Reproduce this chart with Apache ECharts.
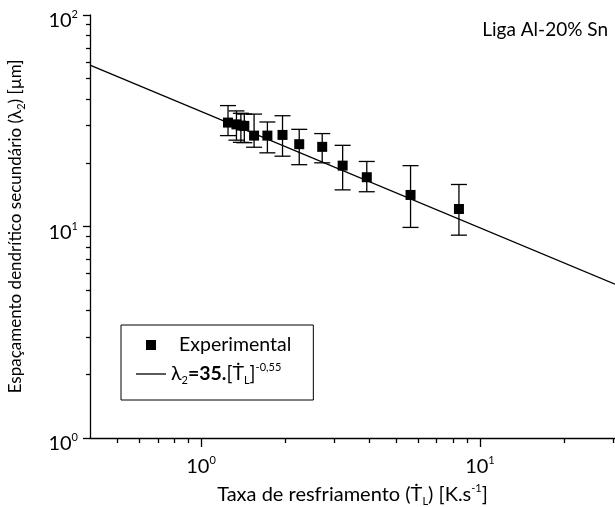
<!DOCTYPE html>
<html>
<head>
<meta charset="utf-8">
<script src="https://cdn.jsdelivr.net/npm/echarts@6/dist/echarts.min.js"></script>
<style>
  html, body { margin: 0; padding: 0; background: #fff; }
  #chart { width: 615px; height: 507px; }
</style>
</head>
<body>
<div id="chart"></div>
<script>
// taxa de resfriamento (K/s) x espaçamento dendrítico secundário (um)
const coolingRate = [1.25, 1.34, 1.39, 1.43, 1.55, 1.73, 1.96, 2.25, 2.72, 3.22, 3.93, 5.64, 8.41];
const spacing     = [31.0, 30.4, 30.0, 29.9, 26.9, 26.9, 27.1, 24.5, 23.8, 19.4, 17.1, 14.1, 12.1];
const spacingHigh = [37.3, 35.2, 34.3, 34.0, 34.0, 31.2, 33.4, 28.8, 27.5, 24.2, 20.3, 19.4, 15.8];
const spacingLow  = [26.9, 25.6, 25.0, 24.9, 23.7, 22.3, 21.5, 19.6, 20.0, 14.9, 14.6, 9.9, 9.1];

// ajuste lambda2 = 35.T^-0,55 (extremos da reta)
const fitX = [0.4, 30.5];
const fitY = [57.9, 5.34];

const xMajor = [1, 10];
const xMinor = [0.5, 0.6, 0.7, 0.8, 0.9, 2, 3, 4, 5, 6, 7, 8, 9, 20, 30];
const yMajor = [1, 10, 100];
const yMinor = [2, 3, 4, 5, 6, 7, 8, 9, 20, 30, 40, 50, 60, 70, 80, 90];

const FONT = 'Lato, "Noto Sans", sans-serif';
const richText = {
  b:   { fontFamily: FONT, fontSize: 20, color: '#000', lineHeight: 24 },
  n:   { fontFamily: FONT, fontSize: 20, color: '#000', lineHeight: 24 },
  ny:  { fontFamily: FONT, fontSize: 17, color: '#000', lineHeight: 22 },
  e:   { fontFamily: FONT, fontSize: 19.5, color: '#000', lineHeight: 24, padding: [0, 0, 0, 8] },
  l:   { fontFamily: FONT, fontSize: 19.5, color: '#000', lineHeight: 24 },
  bd:  { fontFamily: FONT, fontSize: 19.5, color: '#000', lineHeight: 24, fontWeight: 'bold' },
  sup: { fontFamily: FONT, fontSize: 11, color: '#000', lineHeight: 13, verticalAlign: 'top' },
  sub: { fontFamily: FONT, fontSize: 11, color: '#000', lineHeight: 13, verticalAlign: 'bottom' }
};

function powLabel(v) {
  return '{b|10}{sup|' + Math.round(Math.log10(v)) + '}';
}

let errData = [];
let pointData = [];
for (let i = 0; i < coolingRate.length; i++) {
  errData.push([coolingRate[i], spacingLow[i], spacingHigh[i]]);
  pointData.push([coolingRate[i], spacing[i]]);
}
let fitData = [];
for (let i = 0; i < fitX.length; i++) {
  fitData.push([fitX[i], fitY[i]]);
}

const axisColor = { color: '#000', width: 1.3 };

const my_echart = echarts.init(document.getElementById('chart'), null, { renderer: 'canvas' });

my_echart.setOption({
  animation: false,
  backgroundColor: '#fff',
  title: {
    text: 'Liga Al-20% Sn',
    right: 2,
    top: 15,
    textStyle: { fontFamily: FONT, fontSize: 19, fontWeight: 'normal', color: '#000' }
  },
  legend: {
    orient: 'vertical',
    left: 121,
    top: 325,
    padding: [10, 22, 14, 15],
    itemWidth: 30,
    itemHeight: 10,
    itemGap: 7,
    borderColor: '#000',
    borderWidth: 1,
    data: [
      { name: 'Experimental', icon: 'path://M0,0L10,0L10,10L0,10Z' },
      { name: 'Ajuste', icon: 'path://M0,0L30,0L30,1.3L0,1.3Z' }
    ],
    formatter: function (name) {
      if (name === 'Experimental') return '{e|Experimental}';
      return '{l|λ}{sub|2}{bd|=35.}{l|[Ṫ}{sub|L}{l|]}{sup|-0,55}';
    },
    textStyle: { rich: richText }
  },
  grid: { left: 90, right: 0, top: 15, bottom: 69, containLabel: false, outerBoundsMode: 'none' },
  xAxis: [
    {
      type: 'log',
      logBase: 10,
      min: 0.4,
      max: 30.5,
      axisLine: { lineStyle: axisColor },
      axisTick: { customValues: xMajor, length: 9, lineStyle: axisColor },
      axisLabel: { customValues: xMajor, formatter: powLabel, margin: 17, rich: richText },
      splitLine: { show: false },
      name: '{n|Taxa de resfriamento (Ṫ}{sub|L}{n|) [K.s}{sup|-1}{n|]}',
      nameLocation: 'middle',
      nameGap: 45,
      nameTextStyle: { rich: richText }
    },
    {
      type: 'log',
      logBase: 10,
      min: 0.4,
      max: 30.5,
      position: 'bottom',
      axisLine: { show: false },
      axisTick: { customValues: xMinor, length: 5, lineStyle: axisColor },
      axisLabel: { show: false },
      splitLine: { show: false }
    }
  ],
  yAxis: [
    {
      type: 'log',
      logBase: 10,
      min: 1,
      max: 100,
      axisLine: { lineStyle: axisColor },
      axisTick: { customValues: yMajor, length: 7, lineStyle: axisColor },
      axisLabel: { customValues: yMajor, formatter: powLabel, margin: 12, rich: richText, padding: [12, 0, 0, 0] },
      splitLine: { show: false },
      name: '{ny|Espaçamento dendrítico secundário (λ}{sub|2}{ny|) [µm]}',
      nameLocation: 'middle',
      nameRotate: 90,
      nameGap: 63,
      nameTextStyle: { rich: richText }
    },
    {
      type: 'log',
      logBase: 10,
      min: 1,
      max: 100,
      position: 'left',
      axisLine: { show: false },
      axisTick: { customValues: yMinor, length: 4, lineStyle: axisColor },
      axisLabel: { show: false },
      splitLine: { show: false }
    }
  ],
  series: [
    {
      name: 'Ajuste',
      type: 'line',
      data: fitData,
      symbol: 'none',
      lineStyle: { color: '#000', width: 1.3 },
      itemStyle: { color: '#000' },
      clip: true,
      z: 2
    },
    {
      name: 'erro',
      type: 'custom',
      data: errData,
      encode: { x: 0, y: [1, 2] },
      renderItem: function (params, api) {
        const x = api.value(0);
        const lo = api.coord([x, api.value(1)]);
        const hi = api.coord([x, api.value(2)]);
        const w = 8;
        const st = { stroke: '#000', lineWidth: 1.3 };
        return {
          type: 'group',
          children: [
            { type: 'line', shape: { x1: hi[0], y1: hi[1], x2: lo[0], y2: lo[1] }, style: st },
            { type: 'line', shape: { x1: hi[0] - w, y1: hi[1], x2: hi[0] + w, y2: hi[1] }, style: st },
            { type: 'line', shape: { x1: lo[0] - w, y1: lo[1], x2: lo[0] + w, y2: lo[1] }, style: st }
          ]
        };
      },
      z: 3
    },
    {
      name: 'Experimental',
      type: 'scatter',
      data: pointData,
      symbol: 'rect',
      symbolSize: 10,
      itemStyle: { color: '#000', opacity: 1 },
      z: 4
    }
  ]
});
</script>
</body>
</html>
